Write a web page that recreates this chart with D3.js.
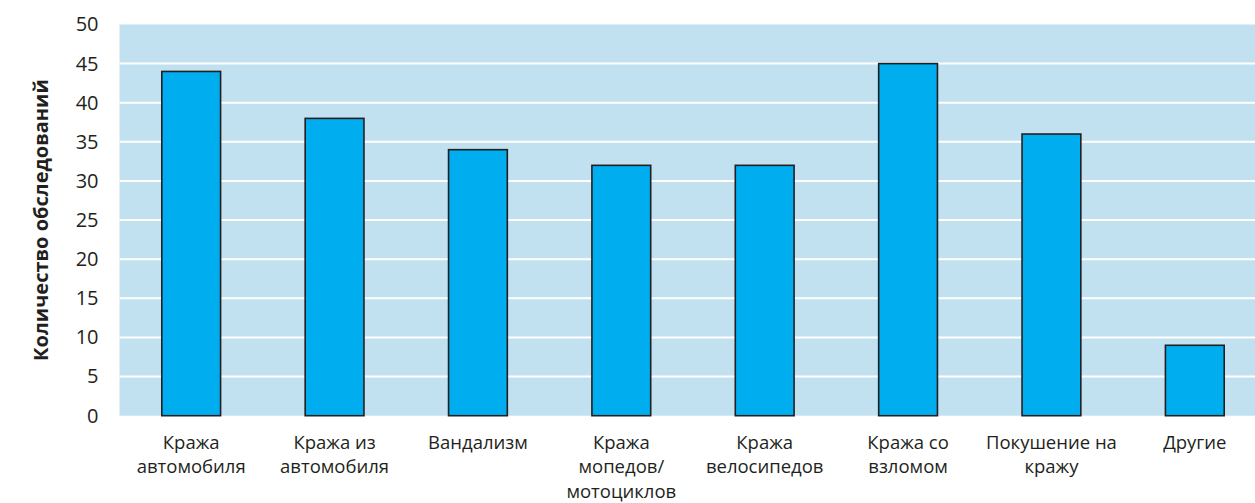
<!DOCTYPE html>
<html><head><meta charset="utf-8">
<script src="https://cdn.jsdelivr.net/npm/d3@7"></script>
<style>body{margin:0;background:#fff}svg{display:block}</style>
</head><body>
<svg id="c" width="1255" height="503"></svg>
<script>
const categories = [
  ["Кража","автомобиля"],
  ["Кража из","автомобиля"],
  ["Вандализм"],
  ["Кража","мопедов/","мотоциклов"],
  ["Кража","велосипедов"],
  ["Кража со","взломом"],
  ["Покушение на","кражу"],
  ["Другие"]
];
const values = [44, 38, 34, 32, 32, 45, 36, 9];
const yTicks = [0,5,10,15,20,25,30,35,40,45,50];
const yTitle = "Количество обследований";

(function(){
const svg = d3.select("#c");
const pL = 119.5, pR = 1266.5, pT = 24.5, pB = 415.7;
const ids = categories.map((d,i)=>i);
const x = d3.scaleBand().domain(ids).range([pL,pR]).paddingInner(0.59).paddingOuter(0.295);
const y = d3.scaleLinear().domain([0,50]).range([pB,pT]);

svg.append("rect").attr("x",pL).attr("y",pT).attr("width",pR-pL).attr("height",pB-pT).attr("fill","#c1e1f0");

svg.append("g").selectAll("line").data(yTicks.filter(t=>t>0&&t<50)).join("line")
  .attr("x1",pL).attr("x2",pR).attr("y1",d=>y(d)).attr("y2",d=>y(d))
  .attr("stroke","#fff").attr("stroke-width",2);

const font = "'Open Sans', 'Noto Sans', sans-serif";
const yAxis = d3.axisLeft(y).tickValues(yTicks).tickSize(0).tickPadding(0);
const ga = svg.append("g").attr("transform",`translate(${98.5},0)`).call(yAxis);
ga.select(".domain").remove();
ga.selectAll("text").attr("font-family",font).attr("font-size",20).attr("fill","#231f20");

svg.append("g").selectAll("rect").data(values).join("rect")
  .attr("x",(d,i)=>x(i)).attr("width",x.bandwidth())
  .attr("y",d=>y(d)).attr("height",d=>pB-y(d))
  .attr("fill","#00adee").attr("stroke","#231f20").attr("stroke-width",1.6);

const xAxis = d3.axisBottom(x).tickSize(0).tickFormat("");
const gx = svg.append("g").attr("transform",`translate(0,${pB})`).call(xAxis);
gx.select(".domain").remove();
gx.selectAll(".tick").each(function(i){
  const t = d3.select(this).append("text").attr("font-family",font).attr("font-size",18.5)
    .attr("fill","#231f20").attr("text-anchor","middle");
  categories[i].forEach((line,k)=>{
    t.append("tspan").attr("x",0).attr("y",33+k*24.5).text(line);
  });
});

svg.append("text").attr("transform",`translate(48,${220}) rotate(-90)`)
  .attr("text-anchor","middle").attr("font-family",font).attr("font-weight","bold")
  .attr("font-size",20).attr("fill","#231f20").text(yTitle);
})();
</script>
</body></html>
